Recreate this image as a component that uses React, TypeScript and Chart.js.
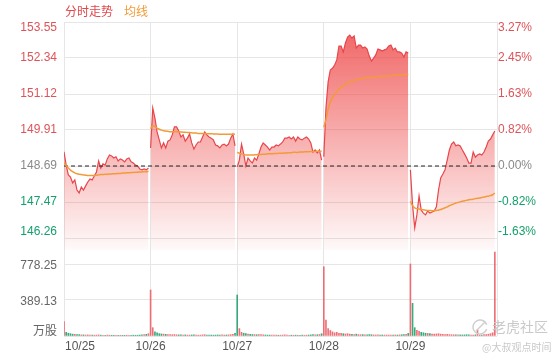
import React, { useEffect, useRef } from 'react';
import { Chart, registerables } from 'chart.js';

Chart.register(...registerables);

// ---------- data ----------
const BASE_PRICE = 148.69;
const dayLabels = ['10/25', '10/26', '10/27', '10/28', '10/29'];
const priceTicks = [153.55, 152.34, 151.12, 149.91, 148.69, 147.47, 146.26];
const priceTickLabels = ['153.55', '152.34', '151.12', '149.91', '148.69', '147.47', '146.26'];
const pctTickLabels = ['3.27%', '2.45%', '1.63%', '0.82%', '0.00%', '-0.82%', '-1.63%'];
const volumeTicks = [0, 389.13, 778.25];
const volumeTickLabels = ['万股', '389.13', '778.25'];
const legendLabels = ['分时走势', '均线'];

const price1025 = [149.17, 148.72, 148.39, 148.32, 148.12, 148.22, 147.88, 147.78, 147.98, 147.88, 148.02, 148.15, 148.25, 148.22, 148.35, 148.49, 148.86, 148.62, 148.76, 148.72, 148.93, 149.06, 149.03, 148.96, 149.0, 148.86, 148.93, 148.89, 148.83, 148.93, 148.96, 148.83, 148.79, 148.72, 148.69, 148.59, 148.56, 148.59, 148.56, 148.62];
const avg1025 = [148.8, 148.7, 148.62, 148.55, 148.5, 148.46, 148.43, 148.41, 148.4, 148.39, 148.38, 148.37, 148.37, 148.37, 148.37, 148.38, 148.39, 148.4, 148.4, 148.41, 148.41, 148.42, 148.42, 148.43, 148.43, 148.44, 148.44, 148.45, 148.45, 148.46, 148.46, 148.47, 148.47, 148.48, 148.48, 148.49, 148.49, 148.5, 148.5, 148.51];
const vol1025 = [155, 40, 30, 25, 20, 18, 15, 15, 12, 12, 10, 12, 10, 10, 9, 10, 12, 9, 8, 8, 10, 9, 8, 7, 8, 7, 8, 7, 7, 8, 7, 8, 9, 8, 9, 10, 12, 14, 18, 25];

const price1026 = [149.3, 150.65, 150.31, 149.84, 149.57, 149.3, 149.47, 149.3, 149.53, 149.57, 149.74, 150.01, 150.01, 149.87, 149.67, 149.74, 149.53, 149.63, 149.77, 149.47, 149.26, 149.4, 149.5, 149.5, 149.67, 149.84, 149.74, 149.67, 149.63, 149.57, 149.4, 149.37, 149.3, 149.4, 149.43, 149.37, 149.43, 149.63, 149.77, 149.37];
const avg1026 = [149.95, 150.05, 150.02, 149.97, 149.93, 149.9, 149.88, 149.87, 149.86, 149.85, 149.85, 149.85, 149.85, 149.84, 149.84, 149.83, 149.83, 149.82, 149.82, 149.81, 149.8, 149.8, 149.79, 149.79, 149.79, 149.79, 149.78, 149.78, 149.78, 149.77, 149.77, 149.77, 149.76, 149.76, 149.76, 149.76, 149.76, 149.76, 149.76, 149.76];
const vol1026 = [497, 90, 45, 35, 25, 22, 20, 18, 15, 15, 14, 16, 13, 12, 12, 11, 12, 10, 10, 11, 12, 10, 9, 10, 12, 14, 11, 10, 10, 9, 10, 11, 10, 12, 10, 11, 12, 15, 18, 30];

const price1027 = [148.66, 148.89, 149.43, 149.1, 148.69, 148.96, 148.86, 148.79, 148.96, 148.89, 149.1, 149.33, 149.47, 149.4, 149.33, 149.23, 149.33, 149.33, 149.4, 149.37, 149.43, 149.5, 149.63, 149.63, 149.67, 149.6, 149.67, 149.53, 149.67, 149.6, 149.57, 149.63, 149.67, 149.6, 149.47, 149.16, 149.23, 149.13, 149.23, 148.89];
const avg1027 = [149.15, 149.12, 149.1, 149.08, 149.06, 149.06, 149.06, 149.06, 149.07, 149.07, 149.08, 149.08, 149.09, 149.09, 149.1, 149.1, 149.1, 149.11, 149.11, 149.12, 149.12, 149.12, 149.13, 149.13, 149.14, 149.14, 149.15, 149.15, 149.15, 149.16, 149.16, 149.17, 149.17, 149.17, 149.18, 149.18, 149.18, 149.19, 149.19, 149.19];
const vol1027 = [443, 80, 40, 30, 25, 20, 18, 16, 15, 14, 15, 14, 12, 11, 10, 10, 9, 10, 9, 8, 9, 10, 12, 9, 8, 9, 8, 9, 8, 8, 9, 8, 9, 10, 12, 15, 12, 14, 16, 25];

const price1028 = [149.0, 150.65, 151.53, 151.93, 151.99, 152.1, 152.27, 152.74, 152.74, 152.54, 152.84, 153.04, 153.11, 153.01, 153.08, 152.67, 152.77, 152.77, 152.67, 152.71, 152.64, 152.4, 152.23, 152.33, 152.44, 152.64, 152.61, 152.57, 152.61, 152.64, 152.74, 152.77, 152.61, 152.67, 152.54, 152.54, 152.5, 152.37, 152.54, 152.5];
const avg1028 = [150.0, 150.25, 150.6, 150.85, 151.0, 151.1, 151.2, 151.28, 151.35, 151.4, 151.45, 151.49, 151.53, 151.56, 151.58, 151.6, 151.62, 151.63, 151.65, 151.66, 151.67, 151.68, 151.68, 151.69, 151.7, 151.7, 151.71, 151.72, 151.72, 151.73, 151.73, 151.74, 151.75, 151.75, 151.76, 151.76, 151.77, 151.77, 151.78, 151.78];
const vol1028 = [749, 173, 80, 60, 45, 35, 40, 30, 28, 25, 22, 25, 20, 18, 16, 20, 15, 14, 15, 13, 12, 15, 14, 12, 11, 12, 10, 11, 10, 11, 10, 9, 10, 11, 10, 12, 14, 16, 18, 28];

const price1029 = [148.56, 147.37, 146.6, 147.04, 147.68, 147.2, 147.1, 147.04, 147.17, 147.1, 147.14, 147.17, 147.31, 147.88, 148.29, 148.42, 148.56, 148.89, 149.23, 149.43, 149.5, 149.37, 149.4, 149.37, 149.23, 149.1, 148.96, 148.79, 148.79, 149.16, 148.99, 149.06, 149.1, 149.06, 149.16, 149.33, 149.53, 149.6, 149.74, 149.87];
const avg1029 = [147.5, 147.35, 147.28, 147.25, 147.24, 147.22, 147.21, 147.2, 147.19, 147.19, 147.18, 147.18, 147.19, 147.2, 147.22, 147.25, 147.28, 147.31, 147.35, 147.38, 147.41, 147.44, 147.46, 147.48, 147.5, 147.52, 147.53, 147.55, 147.56, 147.57, 147.59, 147.6, 147.61, 147.63, 147.64, 147.66, 147.67, 147.69, 147.72, 147.78];
const vol1029 = [778, 353, 90, 60, 50, 40, 35, 30, 28, 25, 22, 20, 22, 25, 20, 18, 16, 18, 15, 14, 13, 12, 13, 12, 11, 12, 14, 12, 11, 10, 12, 65, 12, 11, 14, 16, 20, 25, 35, 908];

// bars drawn red although the price fell (opening bar of 10/29)
const upBarOverrides = [160];

// ---------- styling ----------
const POINTS_PER_DAY = 40;
const X_MAX = POINTS_PER_DAY * dayLabels.length;
const PRICE_MAX = 153.55;
const PRICE_MIN = 142.9525;
const FILL_FLOOR = 145.855;
const VOL_MAX = 3394.07;
const GRID = '#e6e6e6';
const RED = '#e8464b';
const ORANGE = '#f29b38';
const TXT_RED = '#de5459';
const TXT_GREEN = '#15a06b';
const TXT_GRAY = '#8a8a8a';
const FONT = '"Liberation Sans", Arial, sans-serif';
const CJK = '"Noto Sans CJK SC", sans-serif';

const priceDays = [price1025, price1026, price1027, price1028, price1029];
const avgDays = [avg1025, avg1026, avg1027, avg1028, avg1029];
const volDays = [vol1025, vol1026, vol1027, vol1028, vol1029];

function toPoints(days: number[][]) {
  const pts: { x: number; y: number | null }[] = [];
  days.forEach((arr, d) => {
    arr.forEach((v, i) => pts.push({ x: d * POINTS_PER_DAY + i, y: v }));
    if (d < days.length - 1) pts.push({ x: d * POINTS_PER_DAY + POINTS_PER_DAY - 0.5, y: null });
  });
  return pts;
}

const labelPlugin = {
  id: 'customLabels',
  afterDraw(chart: any) {
    const { ctx, chartArea, scales } = chart;
    const y = scales.y;
    const yv = scales.yv;
    const x = scales.x;
    ctx.save();
    ctx.textBaseline = 'middle';
    ctx.font = '12px ' + FONT;
    priceTicks.forEach((v, i) => {
      let py = y.getPixelForValue(v);
      if (i === 0) py += 6;
      if (i === priceTicks.length - 1) py -= 6;
      ctx.fillStyle = v > BASE_PRICE ? TXT_RED : v < BASE_PRICE ? TXT_GREEN : TXT_GRAY;
      ctx.textAlign = 'right';
      ctx.fillText(priceTickLabels[i], chartArea.left - 7, py);
      ctx.textAlign = 'left';
      ctx.fillText(pctTickLabels[i], chartArea.right + 1, py);
    });
    volumeTicks.forEach((v, i) => {
      let py = yv.getPixelForValue(v);
      if (i === 0) py -= 6; else py += 2;
      ctx.fillStyle = '#666';
      ctx.textAlign = 'right';
      ctx.font = (i === 0 ? '12px ' + CJK : '12px ' + FONT);
      ctx.fillText(volumeTickLabels[i], chartArea.left - 7, py);
    });
    ctx.font = '12px ' + FONT;
    ctx.fillStyle = '#555';
    dayLabels.forEach((lab, d) => {
      const cx = x.getPixelForValue(d * POINTS_PER_DAY);
      const w = ctx.measureText(lab).width;
      const left = Math.max(cx - w / 2, chartArea.left + 1);
      ctx.textAlign = 'left';
      ctx.fillText(lab, left, chartArea.bottom + 11);
    });
    // legend
    ctx.font = '12px ' + CJK;
    ctx.textAlign = 'left';
    ctx.fillStyle = '#e0474b';
    ctx.fillText(legendLabels[0], chartArea.left + 1, 11);
    ctx.fillStyle = ORANGE;
    ctx.fillText(legendLabels[1], chartArea.left + 60, 11);
    // watermark
    ctx.strokeStyle = '#cfcfcf';
    ctx.lineWidth = 1.5;
    ctx.beginPath();
    ctx.arc(480, 327, 7, 0.3, Math.PI * 1.9);
    ctx.stroke();
    ctx.beginPath();
    ctx.moveTo(476, 331);
    ctx.lineTo(485, 322);
    ctx.stroke();
    ctx.fillStyle = '#c9c9c9';
    ctx.font = '14px ' + CJK;
    ctx.fillText('老虎社区', 492, 327);
    ctx.font = '10px ' + CJK;
    ctx.fillText('@大叔观点时间', 482, 347);
    ctx.restore();
  },
};

export default function App() {
  const ref = useRef<HTMLCanvasElement | null>(null);
  useEffect(() => {
    if (!ref.current) return;
    const pricePts = toPoints(priceDays);
    const avgPts = toPoints(avgDays);
    const volPts: { x: number; y: number }[] = [];
    const volColors: string[] = [];
    let prev = BASE_PRICE;
    volDays.forEach((arr, d) => {
      arr.forEach((v, i) => {
        const k = d * POINTS_PER_DAY + i;
        const p = priceDays[d][i];
        const up = p >= prev || upBarOverrides.includes(k);
        prev = p;
        volPts.push({ x: k, y: v });
        volColors.push(up ? 'rgba(236,96,104,0.9)' : 'rgba(38,160,110,0.9)');
      });
    });
    const chart = new Chart(ref.current, {
      type: 'line',
      data: {
        datasets: [
          {
            type: 'line',
            data: pricePts as any,
            yAxisID: 'y',
            borderColor: RED,
            borderWidth: 1.2,
            pointRadius: 0,
            tension: 0,
            spanGaps: false,
            fill: { value: FILL_FLOOR },
            backgroundColor: (c: any) => {
              const { chart: ch } = c;
              const area = ch.chartArea;
              if (!area) return 'rgba(240,80,80,0.3)';
              const bottom = ch.scales.y.getPixelForValue(FILL_FLOOR);
              const g = ch.ctx.createLinearGradient(0, area.top, 0, bottom);
              g.addColorStop(0, 'rgba(238,70,70,0.85)');
              g.addColorStop(1, 'rgba(238,70,70,0.03)');
              return g;
            },
            order: 4,
          },
          {
            type: 'line',
            data: [{ x: 0, y: BASE_PRICE }, { x: X_MAX, y: BASE_PRICE }] as any,
            yAxisID: 'y',
            borderColor: '#222',
            borderWidth: 1,
            borderDash: [4, 3],
            pointRadius: 0,
            fill: false,
            order: 2,
          },
          {
            type: 'line',
            data: avgPts as any,
            yAxisID: 'y',
            borderColor: ORANGE,
            borderWidth: 1.5,
            pointRadius: 0,
            tension: 0.3,
            spanGaps: false,
            fill: false,
            order: 1,
          },
          {
            type: 'bar',
            data: volPts as any,
            yAxisID: 'yv',
            backgroundColor: volColors,
            barThickness: 1,
            order: 5,
          } as any,
        ],
      },
      options: {
        animation: false,
        responsive: false,
        layout: { padding: { left: 64, right: 63, top: 22, bottom: 24 } },
        plugins: { legend: { display: false }, tooltip: { enabled: false } },
        scales: {
          x: {
            type: 'linear',
            min: 0,
            max: X_MAX,
            offset: false,
            afterBuildTicks: (s: any) => {
              s.ticks = [0, ...dayLabels.map((_, d) => (d + 1) * POINTS_PER_DAY)].map((v) => ({ value: v }));
            },
            ticks: { display: false },
            grid: { color: GRID, drawTicks: false, offset: false },
            border: { display: false },
          },
          y: {
            type: 'linear',
            position: 'left',
            min: PRICE_MIN,
            max: PRICE_MAX,
            afterBuildTicks: (s: any) => {
              s.ticks = priceTicks.map((v) => ({ value: v }));
            },
            ticks: { display: false },
            grid: { color: GRID, drawTicks: false },
            border: { display: false },
          },
          yv: {
            type: 'linear',
            position: 'left',
            min: 0,
            max: VOL_MAX,
            afterBuildTicks: (s: any) => {
              s.ticks = volumeTicks.map((v) => ({ value: v }));
            },
            ticks: { display: false },
            grid: { color: GRID, drawTicks: false },
            border: { display: false },
          },
        },
      } as any,
      plugins: [labelPlugin],
    });
    return () => chart.destroy();
  }, []);
  return (
    <div style={{ position: 'fixed', left: 0, top: 0, width: 560, height: 360, background: '#fff' }}>
      <canvas ref={ref} width={560} height={360} style={{ width: 560, height: 360 }} />
    </div>
  );
}
